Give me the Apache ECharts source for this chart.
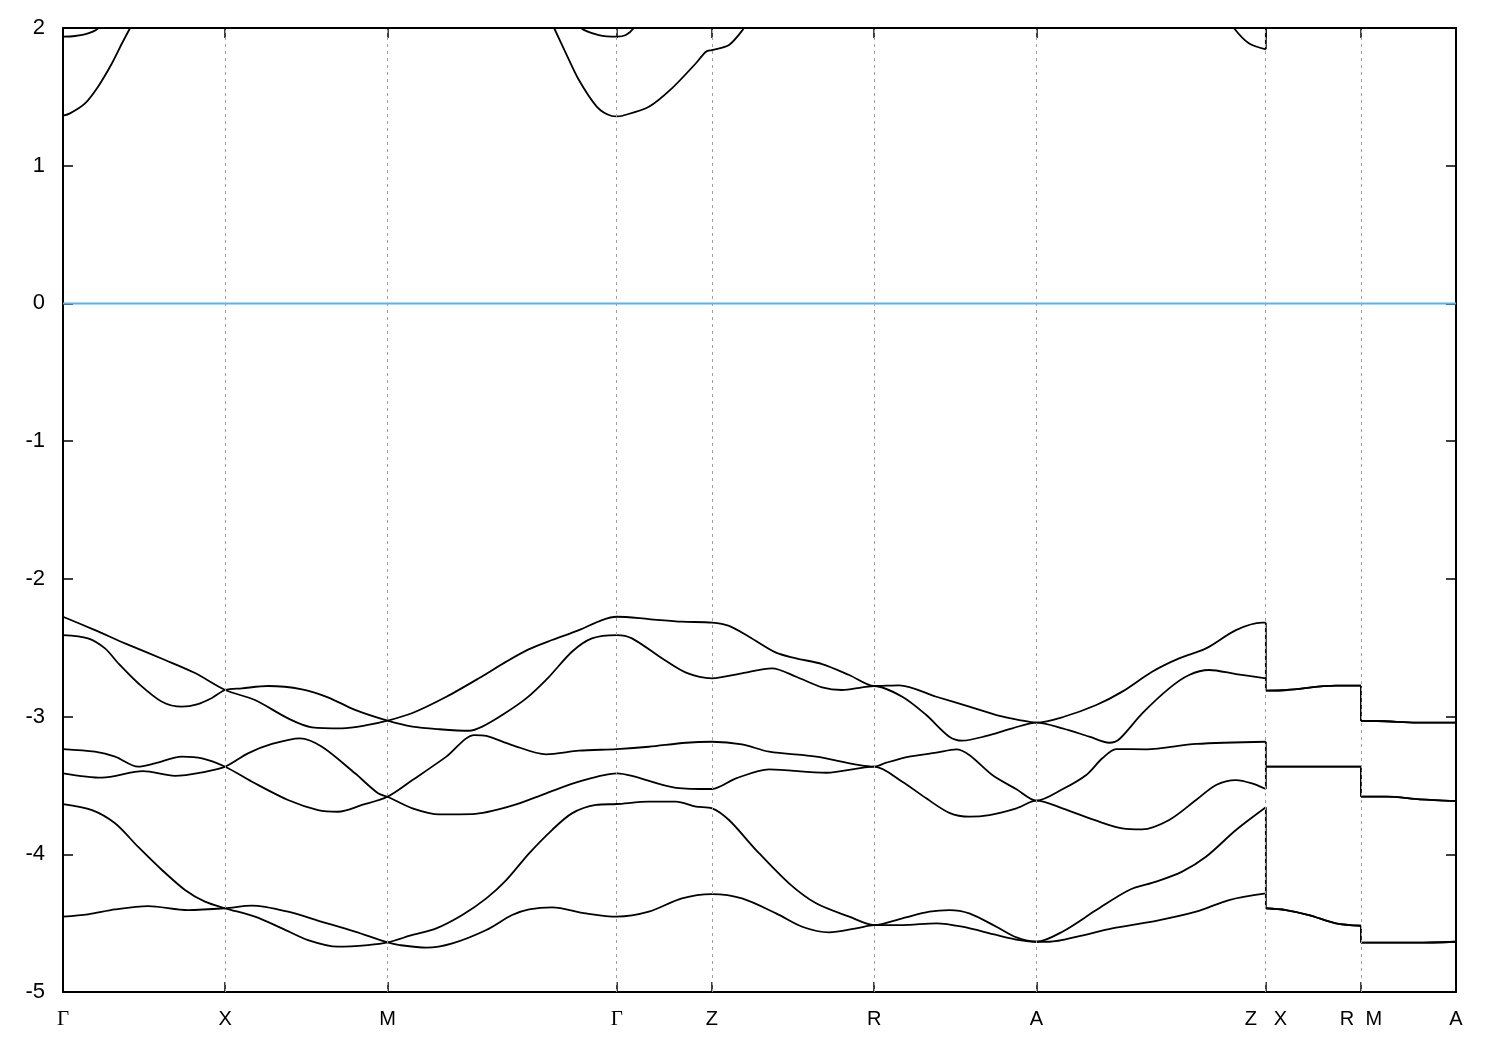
<!DOCTYPE html>
<html>
<head>
<meta charset="utf-8">
<script src="https://cdn.jsdelivr.net/npm/echarts@6/dist/echarts.min.js"></script>
<style>
html,body{margin:0;padding:0;background:#fff;}
#chart{width:1500px;height:1050px;}
</style>
</head>
<body>
<div id="chart"></div>
<script>
// k-path positions (units of Γ–X distance) and their labels
const kPos = [0, 1, 2, 3.414, 4.0, 5.0, 6.0, 7.414, 8.0, 8.586];
const kLabels = ['Γ', 'X', 'M', 'Γ', 'Z', 'R', 'A', 'Z   X', 'R  M', 'A'];
const yTicks = [-5, -4, -3, -2, -1, 0, 1, 2];
const fermiLevel = 0;

// valence bands: [k, energy (eV)]
const bandA = [[0,-2.275],[0.197,-2.372],[0.382,-2.468],[0.629,-2.589],[0.814,-2.684],[1.0,-2.807],
  [1.183,-2.880],[1.387,-3.013],[1.535,-3.078],[1.720,-3.085],[1.880,-3.061],[2.0,-3.030],
  [2.154,-2.974],[2.363,-2.856],[2.566,-2.720],[2.732,-2.601],[2.873,-2.510],[3.014,-2.444],[3.180,-2.372],[3.322,-2.299],[3.414,-2.275],
  [3.611,-2.292],[3.815,-2.311],[4.0,-2.318],[4.105,-2.342],[4.228,-2.420],[4.395,-2.536],[4.519,-2.577],[4.679,-2.619],[4.846,-2.698],[5.0,-2.778],
  [5.154,-2.773],[5.383,-2.856],[5.586,-2.928],[5.753,-2.989],[5.895,-3.025],[6.0,-3.044],
  [6.160,-3.005],[6.369,-2.916],[6.529,-2.819],[6.713,-2.674],[6.879,-2.577],[7.045,-2.505],[7.230,-2.372],[7.390,-2.318],[7.414,-2.318],
  [7.414,-2.812],[7.544,-2.807],[7.846,-2.776],[8.0,-2.776],
  [8.0,-3.032],[8.100,-3.032],[8.343,-3.044],[8.586,-3.044]];

const bandB = [[0,-2.408],[0.154,-2.432],[0.259,-2.505],[0.339,-2.611],[0.462,-2.756],[0.610,-2.892],[0.733,-2.928],[0.832,-2.909],[0.918,-2.865],[1.0,-2.807],
  [1.103,-2.795],[1.264,-2.778],[1.473,-2.802],[1.633,-2.860],[1.800,-2.952],[2.0,-3.030],
  [2.154,-3.073],[2.320,-3.092],[2.504,-3.103],[2.584,-3.073],[2.707,-2.989],[2.855,-2.868],[2.996,-2.711],[3.137,-2.529],[3.260,-2.432],[3.414,-2.408],
  [3.507,-2.432],[3.692,-2.577],[3.840,-2.681],[4.0,-2.722],[4.185,-2.686],[4.370,-2.650],[4.519,-2.711],[4.679,-2.788],[4.802,-2.807],[4.926,-2.788],[5.0,-2.778],
  [5.173,-2.856],[5.321,-2.989],[5.463,-3.146],[5.543,-3.175],[5.691,-3.141],[5.852,-3.085],[6.0,-3.044],
  [6.160,-3.085],[6.326,-3.146],[6.449,-3.190],[6.510,-3.165],[6.652,-2.977],[6.818,-2.795],[6.941,-2.698],[7.064,-2.662],[7.230,-2.691],[7.414,-2.722],
  [7.414,-2.812],[7.544,-2.807],[7.846,-2.776],[8.0,-2.776],
  [8.0,-3.032],[8.100,-3.032],[8.343,-3.044],[8.586,-3.044]];

const bandC = [[0,-3.236],[0.197,-3.255],[0.321,-3.291],[0.462,-3.364],[0.567,-3.340],[0.733,-3.291],[0.857,-3.303],[1.0,-3.364],
  [1.165,-3.473],[1.387,-3.606],[1.572,-3.679],[1.695,-3.691],[1.843,-3.642],[2.0,-3.582],
  [2.154,-3.461],[2.363,-3.291],[2.535,-3.134],[2.609,-3.141],[2.768,-3.207],[2.978,-3.274],[3.180,-3.248],[3.414,-3.236],
  [3.611,-3.219],[3.840,-3.190],[4.0,-3.183],[4.185,-3.202],[4.352,-3.255],[4.642,-3.291],[5.0,-3.364],
  [5.074,-3.335],[5.216,-3.291],[5.383,-3.262],[5.506,-3.238],[5.586,-3.279],[5.728,-3.424],[5.877,-3.528],[6.0,-3.611],
  [6.160,-3.528],[6.307,-3.424],[6.406,-3.303],[6.492,-3.236],[6.676,-3.238],[6.984,-3.199],[7.414,-3.183],
  [7.414,-3.364],[8.0,-3.364],
  [8.0,-3.582],[8.156,-3.582],[8.362,-3.601],[8.586,-3.614]];

const bandD = [[0,-3.412],[0.240,-3.444],[0.493,-3.396],[0.690,-3.430],[0.875,-3.401],[1.0,-3.364],
  [1.140,-3.267],[1.288,-3.199],[1.461,-3.158],[1.596,-3.219],[1.800,-3.412],[1.942,-3.557],[2.0,-3.582],
  [2.154,-3.666],[2.320,-3.710],[2.523,-3.708],[2.768,-3.647],[2.978,-3.557],[3.180,-3.473],[3.414,-3.412],
  [3.507,-3.430],[3.778,-3.517],[4.0,-3.526],[4.148,-3.449],[4.352,-3.383],[4.704,-3.408],[5.0,-3.364],
  [5.173,-3.473],[5.321,-3.594],[5.463,-3.699],[5.586,-3.727],[5.710,-3.715],[5.877,-3.666],[6.0,-3.611],
  [6.160,-3.666],[6.369,-3.756],[6.529,-3.812],[6.652,-3.819],[6.818,-3.751],[6.984,-3.606],[7.107,-3.497],[7.230,-3.461],[7.328,-3.485],[7.414,-3.526],
  [7.414,-3.364],[8.0,-3.364],
  [8.0,-3.582],[8.156,-3.582],[8.362,-3.601],[8.586,-3.614]];

const bandE = [[0,-3.635],[0.179,-3.679],[0.321,-3.775],[0.462,-3.945],[0.610,-4.114],[0.752,-4.259],[0.875,-4.344],[1.0,-4.392],
  [1.183,-4.453],[1.350,-4.538],[1.510,-4.623],[1.695,-4.671],[1.880,-4.659],[2.0,-4.640],
  [2.154,-4.586],[2.301,-4.538],[2.461,-4.441],[2.609,-4.320],[2.732,-4.187],[2.873,-3.993],[3.014,-3.824],[3.137,-3.703],[3.285,-3.642],[3.414,-3.635],
  [3.611,-3.618],[3.778,-3.618],[3.901,-3.654],[4.0,-3.666],[4.105,-3.751],[4.272,-3.969],[4.475,-4.211],[4.642,-4.356],[4.846,-4.453],[5.0,-4.514],
  [5.173,-4.465],[5.340,-4.417],[5.463,-4.405],[5.586,-4.429],[5.753,-4.526],[5.877,-4.603],[6.0,-4.635],
  [6.160,-4.562],[6.369,-4.405],[6.572,-4.259],[6.738,-4.199],[6.898,-4.126],[7.045,-4.018],[7.230,-3.824],[7.414,-3.659],
  [7.414,-4.392],[7.537,-4.405],[7.679,-4.441],[7.846,-4.501],[8.0,-4.519],
  [8.0,-4.642],[8.343,-4.642],[8.586,-4.635]];

const bandF = [[0,-4.453],[0.154,-4.436],[0.321,-4.400],[0.524,-4.376],[0.770,-4.405],[1.0,-4.392],
  [1.165,-4.373],[1.387,-4.417],[1.596,-4.490],[1.800,-4.562],[2.0,-4.640],
  [2.074,-4.659],[2.240,-4.678],[2.400,-4.647],[2.609,-4.550],[2.768,-4.441],[2.873,-4.400],[3.014,-4.385],[3.223,-4.429],[3.414,-4.453],
  [3.611,-4.417],[3.815,-4.320],[4.0,-4.289],[4.185,-4.320],[4.395,-4.429],[4.556,-4.526],[4.722,-4.567],[4.889,-4.538],[5.0,-4.514],
  [5.173,-4.514],[5.383,-4.501],[5.543,-4.526],[5.753,-4.586],[5.895,-4.623],[6.0,-4.635],
  [6.080,-4.635],[6.264,-4.594],[6.467,-4.538],[6.738,-4.483],[6.984,-4.417],[7.187,-4.332],[7.414,-4.284],
  [7.414,-4.392],[7.537,-4.405],[7.679,-4.441],[7.846,-4.501],[8.0,-4.519],
  [8.0,-4.642],[8.343,-4.642],[8.586,-4.635]];

// conduction bands (partly above the plotted window; null = leaves the window)
const condLow = [[0,1.363],[0.043,1.380],[0.136,1.453],[0.216,1.574],[0.302,1.744],[0.364,1.889],[0.413,1.998],[0.46,2.1],
  null,
  [2.99,2.1],[3.027,2.0],[3.100,1.816],[3.180,1.622],[3.291,1.428],[3.383,1.361],[3.414,1.358],[3.443,1.361],[3.611,1.428],[3.753,1.562],[3.901,1.744],[3.963,1.828],[4.0,1.840],[4.105,1.877],[4.198,2.0],[4.25,2.1],
  null,
  [7.17,2.1],[7.217,2.0],[7.309,1.889],[7.414,1.845],[7.414,2.3]];
const condHigh = [[0,1.937],[0.074,1.942],[0.154,1.961],[0.216,1.998],[0.26,2.1],
  null,
  [3.15,2.1],[3.193,2.0],[3.303,1.949],[3.414,1.937],[3.469,1.949],[3.518,2.0],[3.56,2.1]];

const bands = [bandA, bandB, bandC, bandD, bandE, bandF, condLow, condHigh];

// split a band at discontinuities (two points at the same k) so that
// smoothing stays inside each continuous piece; jumps become straight pieces
function splitPieces(band) {
  const smoothParts = [];
  const jumps = [];
  let cur = [];
  for (let i = 0; i < band.length; i++) {
    const p = band[i];
    if (p === null) {
      if (cur.length) smoothParts.push(cur);
      cur = [];
      continue;
    }
    const prev = i > 0 ? band[i - 1] : null;
    if (prev && prev[0] === p[0]) {
      if (cur.length) smoothParts.push(cur);
      jumps.push([prev, p]);
      cur = [p];
    } else {
      cur.push(p);
    }
  }
  if (cur.length) smoothParts.push(cur);
  return {smoothParts, jumps};
}

function joinWithNulls(parts) {
  const out = [];
  parts.forEach((part, i) => {
    if (i > 0) out.push(null);
    part.forEach(p => out.push(p));
  });
  return out;
}

const chart = echarts.init(document.getElementById('chart'), null, {renderer: 'canvas'});

function kLabel(v) {
  for (let i = 0; i < kPos.length; i++) {
    if (Math.abs(v - kPos[i]) < 1e-6) {
      const t = kLabels[i];
      return t === 'Γ' ? '{g|Γ}' : t;
    }
  }
  return '';
}

const axisColor = '#000';
const labelFont = 'Liberation Sans, Arial, sans-serif';
const bandWidth = 1.8;

const series = [];
// Fermi level + dashed k-point guides
series.push({
  type: 'line',
  data: [[kPos[0], fermiLevel], [kPos[kPos.length - 1], fermiLevel]],
  symbol: 'none',
  lineStyle: {color: '#56b4e9', width: 2},
  z: 1,
  markLine: {
    silent: true,
    symbol: ['none', 'none'],
    label: {show: false},
    lineStyle: {type: [3, 4], color: '#a0a0a0', width: 1},
    data: kPos.slice(1, -1).map(v => ({xAxis: v}))
  }
});

const allJumps = [];
bands.forEach(b => {
  const {smoothParts, jumps} = splitPieces(b);
  jumps.forEach(j => allJumps.push(j));
  series.push({
    type: 'line',
    data: joinWithNulls(smoothParts),
    symbol: 'none',
    connectNulls: false,
    smooth: 0.3,
    clip: true,
    lineStyle: {color: '#000', width: bandWidth},
    z: 3
  });
});
series.push({
  type: 'line',
  data: joinWithNulls(allJumps),
  symbol: 'none',
  connectNulls: false,
  clip: true,
  lineStyle: {color: '#000', width: bandWidth},
  z: 3
});

const xCommon = {
  type: 'value', min: kPos[0], max: kPos[kPos.length - 1],
  splitLine: {show: false},
  axisLine: {show: true, onZero: false, lineStyle: {color: axisColor, width: 2}},
  axisTick: {show: true, inside: true, length: 10, customValues: kPos, lineStyle: {color: axisColor, width: 1.5}}
};

chart.setOption({
  animation: false,
  backgroundColor: '#fff',
  grid: {left: 63, right: 44, top: 28, bottom: 58, containLabel: false},
  xAxis: [
    Object.assign({}, xCommon, {
      position: 'bottom',
      axisLabel: {
        show: true, customValues: kPos, formatter: kLabel, margin: 17,
        showMinLabel: true, showMaxLabel: true,
        fontSize: 20, color: '#000', fontFamily: labelFont,
        rich: {g: {fontSize: 21, fontFamily: 'Liberation Serif, DejaVu Serif, serif', color: '#000'}}
      }
    }),
    Object.assign({}, xCommon, {position: 'top', axisLabel: {show: false}})
  ],
  yAxis: [
    {
      type: 'value', min: yTicks[0], max: yTicks[yTicks.length - 1], interval: 1, position: 'left',
      splitLine: {show: false},
      axisLine: {show: true, onZero: false, lineStyle: {color: axisColor, width: 2}},
      axisTick: {show: true, inside: true, length: 10, lineStyle: {color: axisColor, width: 1.5}},
      axisLabel: {show: true, margin: 18, fontSize: 22, color: '#000', fontFamily: labelFont}
    },
    {
      type: 'value', min: yTicks[0], max: yTicks[yTicks.length - 1], interval: 1, position: 'right',
      splitLine: {show: false},
      axisLine: {show: true, onZero: false, lineStyle: {color: axisColor, width: 2}},
      axisTick: {show: true, inside: true, length: 10, lineStyle: {color: axisColor, width: 1.5}},
      axisLabel: {show: false}
    }
  ],
  series: series
});
</script>
</body>
</html>
